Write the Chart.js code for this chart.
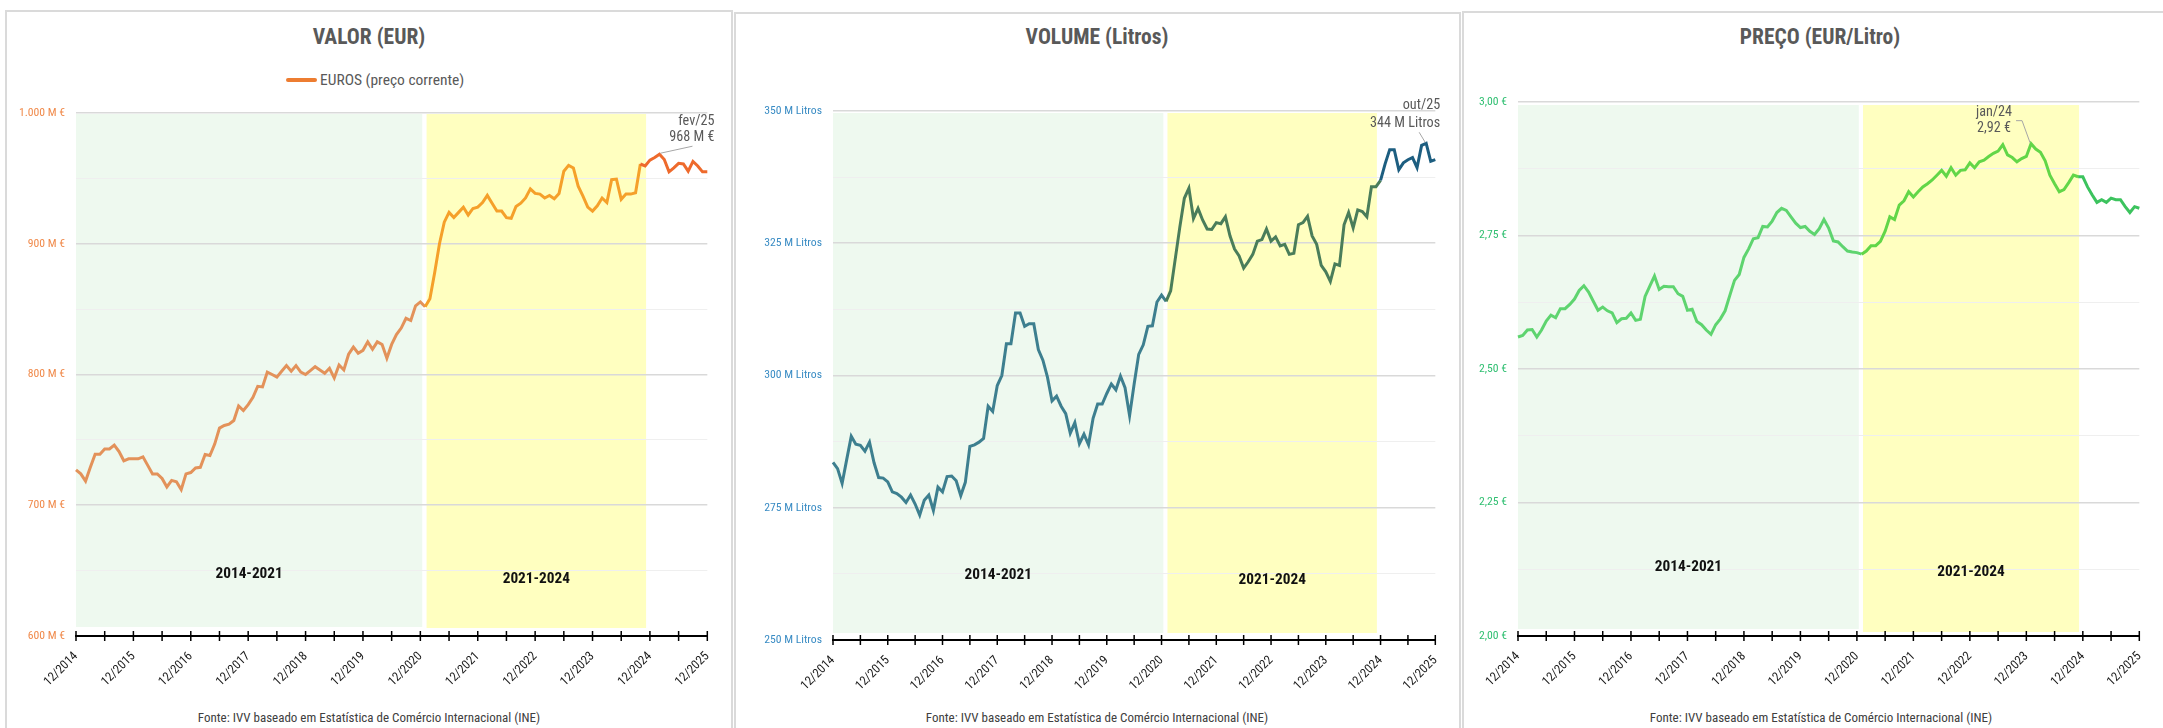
<!DOCTYPE html>
<html lang="pt">
<head>
<meta charset="UTF-8">
<title>Valor, Volume e Preço</title>
<script src="https://cdn.jsdelivr.net/npm/chart.js"></script>
<style>
    body {
        margin: 0;
        width: 2163px;
        height: 728px;
        position: relative;
        overflow: hidden;
        background: #fff;
        font-family: 'Roboto Condensed', 'DejaVu Sans Condensed', sans-serif;
    }
    .panel {
        position: absolute;
        border: 2px solid #dadada;
        box-sizing: border-box;
    }
    .title {
        position: absolute;
        font-size: 21.5px;
        font-weight: bold;
        color: #595959;
        text-align: center;
        line-height: 24px;
        white-space: nowrap;
        transform: translateX(-50%);
    }
    .fonte {
        position: absolute;
        font-size: 13px;
        color: #404040;
        line-height: 16px;
        white-space: nowrap;
        transform: translateX(-50%);
    }
    .legend {
        position: absolute;
        font-size: 15.5px;
        color: #595959;
        line-height: 18px;
        display: flex;
        align-items: center;
        white-space: nowrap;
    }
    .legend span.swatch {
        display: inline-block;
        width: 31px;
        height: 4px;
        border-radius: 2px;
        background: #ed7d31;
        margin-right: 3px;
    }
    .wrap { position: absolute; }
</style>
</head>
<body>
    <div class="panel" style="left:5px;top:10px;width:728px;height:740px"></div>
    <div class="panel" style="left:734px;top:12px;width:727px;height:740px"></div>
    <div class="panel" style="left:1462px;top:11px;width:710px;height:740px"></div>

    <div class="title" style="left:369px;top:25px">VALOR (EUR)</div>
    <div class="title" style="left:1097px;top:25px">VOLUME (Litros)</div>
    <div class="title" style="left:1820px;top:25px">PREÇO (EUR/Litro)</div>

    <div class="legend" style="left:286px;top:71px"><span class="swatch"></span>EUROS (preço corrente)</div>

    <div class="wrap" style="left:7px;top:95px;width:724px;height:610px"><canvas id="cValor"></canvas></div>
    <div class="wrap" style="left:736px;top:93px;width:723px;height:612px"><canvas id="cVolume"></canvas></div>
    <div class="wrap" style="left:1464px;top:84px;width:699px;height:621px"><canvas id="cPreco"></canvas></div>

    <div class="fonte" style="left:369px;top:710px">Fonte: IVV baseado em Estatística de Comércio Internacional (INE)</div>
    <div class="fonte" style="left:1097px;top:710px">Fonte: IVV baseado em Estatística de Comércio Internacional (INE)</div>
    <div class="fonte" style="left:1821px;top:710px">Fonte: IVV baseado em Estatística de Comércio Internacional (INE)</div>

<script>
    // valores mensais, 12/2014 .. 12/2025
    const valorEur = [
        727, 724, 718.5, 729, 739, 739, 743, 743, 746, 741,
        734, 735.5, 735.5, 735.5, 737, 730.5, 724, 724, 720.5, 714,
        719, 718, 712, 724, 725, 728.5, 729, 738.8, 738, 746.8,
        759, 761, 762, 764.8, 776, 772.5, 777, 782.5, 791, 790.5,
        801.8, 800, 798, 802.5, 806.8, 802.5, 806.8, 801.8, 800, 803,
        806, 803.5, 801, 804.8, 797.3, 807.3, 803.5, 815.5, 821, 816.3,
        818.5, 825, 819.3, 825, 823, 812.5, 823, 830.5, 835.5, 843,
        841.3, 852.5, 855.5, 851.8, 858, 878, 900, 916.5, 924, 920,
        924, 928, 922, 927, 928, 931.5, 937, 931, 925, 925,
        920, 919.5, 928.5, 931, 935, 942, 938.5, 938, 935, 937,
        934.5, 938.5, 955.5, 960, 958, 944, 936.5, 928, 925, 929,
        935, 931.5, 949, 949.5, 934, 938, 938, 939, 961, 959.5,
        964, 966, 968.5, 964.5, 955, 958, 961.5, 961, 955.5, 963,
        959.5, 955, 955
    ];
    const volumeLitros = [
        283.6, 282.4, 279.6, 284.1, 288.5, 287, 286.8, 285.7, 287.4, 283.5,
        280.7, 280.6, 279.9, 278, 277.7, 277, 276, 277.4, 275.7, 273.6,
        276.4, 277.4, 274.5, 278.9, 278, 280.9, 281, 280.1, 277.3, 279.8,
        286.6, 286.9, 287.4, 288.1, 294.2, 293.2, 298.1, 300, 306, 306,
        311.8, 311.8, 309.3, 309.8, 309.8, 304.9, 302.9, 299.7, 295.2, 296.1,
        294.2, 292.8, 289.1, 291.1, 287.1, 288.9, 286.9, 291.9, 294.6, 294.6,
        296.6, 298.4, 297.3, 299.9, 297.7, 292.4, 298.4, 304, 305.8, 309.3,
        309.4, 313.9, 315.2, 314, 316, 322, 328, 333.5, 335.4, 329.7,
        331.6, 329.4, 327.7, 327.6, 328.9, 328.7, 330, 326.4, 323.9, 322.6,
        320.3, 321.5, 322.9, 325.4, 325.7, 327.7, 325.4, 326.2, 324.5, 324.8,
        322.9, 323.1, 328.5, 328.9, 330.1, 326.4, 324.8, 320.8, 319.6, 317.8,
        321.1, 320.8, 328.5, 330.8, 327.9, 331.3, 331, 330, 335.7, 335.7,
        336.9, 340, 342.7, 342.7, 338.9, 340.2, 340.8, 341.2, 339.3, 343.5,
        343.9, 340.5, 340.8
    ];
    const precoEur = [
        2.560, 2.563, 2.573, 2.574, 2.560, 2.573, 2.590, 2.601, 2.596, 2.613,
        2.613, 2.621, 2.631, 2.647, 2.656, 2.644, 2.627, 2.610, 2.616, 2.609,
        2.605, 2.587, 2.594, 2.595, 2.605, 2.591, 2.593, 2.636, 2.655, 2.674,
        2.649, 2.655, 2.654, 2.654, 2.641, 2.636, 2.610, 2.612, 2.589, 2.583,
        2.573, 2.565, 2.583, 2.594, 2.609, 2.638, 2.666, 2.677, 2.709, 2.725,
        2.744, 2.746, 2.767, 2.766, 2.777, 2.793, 2.801, 2.797, 2.785, 2.773,
        2.765, 2.767, 2.758, 2.752, 2.763, 2.780, 2.764, 2.740, 2.738, 2.729,
        2.721, 2.719, 2.718, 2.715, 2.721, 2.731, 2.731, 2.739, 2.758, 2.785,
        2.780, 2.807, 2.815, 2.832, 2.822, 2.832, 2.841, 2.847, 2.854, 2.863,
        2.872, 2.861, 2.877, 2.863, 2.872, 2.873, 2.886, 2.877, 2.888, 2.891,
        2.898, 2.904, 2.908, 2.920, 2.901, 2.896, 2.888, 2.894, 2.898, 2.922,
        2.912, 2.906, 2.890, 2.863, 2.847, 2.832, 2.836, 2.849, 2.863, 2.860,
        2.860, 2.841, 2.826, 2.812, 2.817, 2.812, 2.820, 2.817, 2.817, 2.804,
        2.793, 2.804, 2.801
    ];

    // períodos sombreados (posição em meses desde 12/2014)
    const bandGreen = [0, 72.4];
    const bandYellow = [73.3, 119.2];
    const bandNames = ['2014-2021', '2021-2024'];

    // eixo x: meses 12/2014 .. 12/2025
    const meses = [];
    for (let i = 0; i < valorEur.length; i++) {
        const m = (11 + i) % 12 + 1;
        const a = 2014 + Math.floor((11 + i) / 12);
        meses.push(String(m).padStart(2, '0') + '/' + a);
    }

    const FAM = "'Roboto Condensed', 'DejaVu Sans Condensed', sans-serif";
    Chart.defaults.font.family = FAM;
    Chart.defaults.animation = false;

    const decoPlugin = {
        id: 'deco',
        beforeDraw(chart, args, o) {
            const x = chart.scales.x, a = chart.chartArea, ctx = chart.ctx;
            ctx.save();
            [[bandGreen, '#eef9ef', o.gaps[0]], [bandYellow, '#ffffc0', o.gaps[1]]].forEach(b => {
                const x0 = x.getPixelForValue(b[0][0]);
                const x1 = x.getPixelForValue(b[0][1]);
                ctx.fillStyle = b[1];
                ctx.fillRect(x0, a.top + o.topGap, x1 - x0, a.bottom - b[2] - a.top - o.topGap);
            });
            ctx.restore();
        },
        beforeDatasetsDraw(chart, args, o) {
            const x = chart.scales.x, a = chart.chartArea, ctx = chart.ctx;
            ctx.save();
            ctx.font = 'bold 15.3px ' + FAM;
            ctx.fillStyle = '#111';
            ctx.textAlign = 'center';
            ctx.textBaseline = 'middle';
            [bandGreen, bandYellow].forEach((b, i) => {
                const cx = (x.getPixelForValue(b[0]) + x.getPixelForValue(b[1])) / 2;
                ctx.fillText(bandNames[i], cx, a.bottom - o.labelUp[i]);
            });
            ctx.restore();
        },
        afterDraw(chart, args, o) {
            const x = chart.scales.x, a = chart.chartArea, ctx = chart.ctx;
            ctx.save();
            // marcas do eixo a cada 6 meses
            ctx.strokeStyle = '#000';
            ctx.lineWidth = 1.5;
            for (let i = 0; i < meses.length; i += 6) {
                const px = x.getPixelForValue(i);
                ctx.beginPath();
                ctx.moveTo(px, a.bottom - 5);
                ctx.lineTo(px, a.bottom + 5);
                ctx.stroke();
            }
            // anotação do máximo
            const p = chart.getDatasetMeta(0).data[o.peak];
            ctx.strokeStyle = '#a6a6a6';
            ctx.lineWidth = 1;
            ctx.beginPath();
            o.leader.forEach((d, i) => {
                if (i === 0) ctx.moveTo(p.x + d[0], p.y + d[1]);
                else ctx.lineTo(p.x + d[0], p.y + d[1]);
            });
            ctx.stroke();
            ctx.font = '14.2px ' + FAM;
            ctx.fillStyle = '#595959';
            ctx.textAlign = o.align;
            ctx.textBaseline = 'middle';
            o.text.forEach((t, i) => ctx.fillText(t, p.x + o.dx, p.y + o.dy[i]));
            ctx.restore();
        }
    };

    function makeChart(id, data, cfg) {
        return new Chart(document.getElementById(id), {
            type: 'line',
            data: {
                labels: meses,
                datasets: [{
                    data: data,
                    borderWidth: 3,
                    pointRadius: 0,
                    tension: 0,
                    borderColor: cfg.colors[0],
                    segment: {
                        borderColor: c => c.p0DataIndex < cfg.breaks[0] ? cfg.colors[0]
                            : (c.p0DataIndex < cfg.breaks[1] ? cfg.colors[1] : cfg.colors[2])
                    }
                }]
            },
            options: {
                responsive: true,
                maintainAspectRatio: false,
                layout: { padding: { top: 10, right: cfg.padRight, left: 0, bottom: 0 } },
                plugins: {
                    legend: { display: false },
                    tooltip: { enabled: false },
                    deco: cfg.deco
                },
                scales: {
                    x: {
                        type: 'category',
                        offset: false,
                        grid: { display: false, drawTicks: false },
                        border: { display: true, color: '#000', width: 2 },
                        ticks: {
                            autoSkip: false,
                            maxRotation: 45,
                            minRotation: 45,
                            padding: 13,
                            color: '#1a1a1a',
                            font: { size: 12.6 },
                            callback: (v, i) => i % 12 === 0 ? meses[i] : ''
                        },
                        afterFit: s => { s.height = cfg.xHeight; }
                    },
                    y: {
                        min: cfg.min,
                        max: cfg.max,
                        border: { display: false },
                        grid: {
                            drawTicks: false,
                            color: c => cfg.isMajor(c.tick.value) ? '#d9d9d9' : '#efefef',
                            lineWidth: c => cfg.isMajor(c.tick.value) ? 1.6 : 1
                        },
                        ticks: {
                            stepSize: cfg.step,
                            padding: 11,
                            color: cfg.tickColor,
                            font: { size: 11.7 },
                            callback: v => cfg.isMajor(v) ? cfg.fmt(v) : ''
                        },
                        afterFit: s => { s.width = cfg.yWidth; }
                    }
                }
            },
            plugins: [decoPlugin]
        });
    }

    makeChart('cValor', valorEur, {
        colors: ['#e3925a', '#f5a02a', '#ee6a2c'],
        breaks: [73, 118],
        padRight: 19, xHeight: 69, yWidth: 69,
        min: 600, max: 1000, step: 50,
        isMajor: v => v % 100 === 0,
        fmt: v => String(v).replace(/\B(?=(\d{3})+(?!\d))/g, '.') + ' M €',
        tickColor: '#f08a4b',
        deco: {
            gaps: [9, 8], topGap: 1, labelUp: [62, 57],
            peak: 122, text: ['fev/25', '968 M €'], align: 'right', dx: 55, dy: [-33, -17],
            leader: [[1, -1], [33, -8]]
        }
    });

    makeChart('cVolume', volumeLitros, {
        colors: ['#3d7f8f', '#4a7d5a', '#1d5e80'],
        breaks: [73, 120],
        padRight: 23, xHeight: 65, yWidth: 97,
        min: 250, max: 350, step: 12.5,
        isMajor: v => v % 25 === 0,
        fmt: v => v + ' M Litros',
        tickColor: '#3a8cc4',
        deco: {
            gaps: [7, 7], topGap: 2, labelUp: [65, 60],
            peak: 130, text: ['out/25', '344 M Litros'], align: 'right', dx: 14, dy: [-38, -20],
            leader: [[-7, -11], [-1, -1]]
        }
    });

    makeChart('cPreco', precoEur, {
        colors: ['#5ed46f', '#62d648', '#3cc35e'],
        breaks: [73, 119],
        padRight: 16, xHeight: 69, yWidth: 54,
        min: 2, max: 3, step: 0.125,
        isMajor: v => Math.abs(v * 4 - Math.round(v * 4)) < 1e-6,
        fmt: v => v.toFixed(2).replace('.', ',') + ' €',
        tickColor: '#2fbf71',
        deco: {
            gaps: [7, 4], topGap: 3, labelUp: [69, 64],
            peak: 109, text: ['jan/24', '2,92 €'], align: 'center', dx: -37, dy: [-31, -15],
            leader: [[-15, -23], [-9, -23], [-1, -1]]
        }
    });
</script>
</body>
</html>
